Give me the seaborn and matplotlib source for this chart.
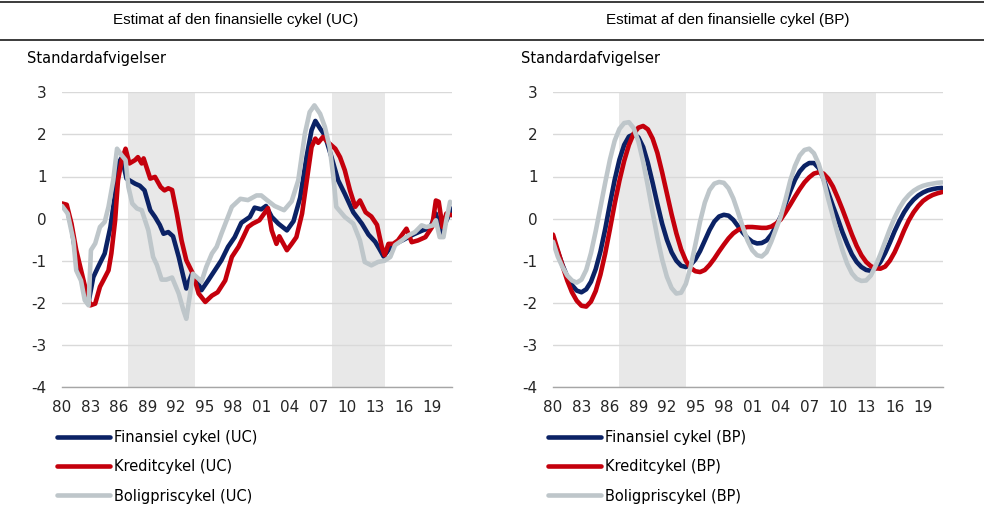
import matplotlib
matplotlib.use("Agg")
import matplotlib.pyplot as plt
from matplotlib.lines import Line2D
import pandas as pd
import seaborn as sns

NAVY = "#0b2265"
RED = "#c4000c"
GREY = "#bec6ca"
SHADE = "#e8e8e8"

TITLES = ["Estimat af den finansielle cykel (UC)", "Estimat af den finansielle cykel (BP)"]
YLABEL = "Standardafvigelser"
SHADED = [(1987.0, 1994.0), (2008.5, 2014.0)]

# ---- UC panel (readings)
uc_fin_year = [1980.0, 1980.5, 1981.0, 1981.7, 1982.2, 1982.8, 1983.3, 1983.8, 1984.5, 1985.1,
               1985.6, 1985.9, 1986.3, 1986.8, 1987.1, 1987.7, 1988.2, 1988.7, 1989.3, 1989.8,
               1990.3, 1990.7, 1991.2, 1991.7, 1992.3, 1992.8, 1993.1, 1993.7, 1994.2, 1994.7,
               1995.4, 1996.1, 1996.8, 1997.5, 1998.2, 1998.9, 1999.8, 2000.3, 2001.0, 2001.5,
               2002.1, 2002.8, 2003.7, 2004.4, 2005.1, 2005.8, 2006.3, 2006.7, 2007.2, 2007.7,
               2008.4, 2009.1, 2009.8, 2010.7, 2011.6, 2012.3, 2013.0, 2013.4, 2013.9, 2014.4,
               2015.1, 2016.0, 2017.0, 2018.0, 2018.8, 2019.4, 2020.0, 2020.5, 2021.1]
uc_fin = [0.32, 0.25, -0.2, -1.23, -1.47, -1.98, -1.39, -1.15, -0.83, -0.2,
          0.59, 1.3, 1.45, 0.95, 0.91, 0.83, 0.78, 0.67, 0.2, 0.04,
          -0.15, -0.36, -0.32, -0.42, -0.91, -1.39, -1.66, -1.31, -1.47, -1.7,
          -1.47, -1.23, -0.99, -0.67, -0.44, -0.1, 0.04, 0.26, 0.22, 0.3,
          0.04, -0.12, -0.28, -0.06, 0.5, 1.5, 2.1, 2.32, 2.14, 1.98,
          1.46, 0.91, 0.59, 0.15, -0.12, -0.38, -0.55, -0.7, -0.9, -0.75,
          -0.6, -0.5, -0.38, -0.28, -0.22, 0.12, -0.36, -0.05, 0.24]

uc_kredit_year = [1980.0, 1980.5, 1981.0, 1981.5, 1982.1, 1982.6, 1983.0, 1983.5, 1984.0, 1984.35,
                  1984.9, 1985.2, 1985.6, 1985.9, 1986.3, 1986.7, 1987.1, 1987.7, 1988.0, 1988.4,
                  1988.6, 1989.3, 1989.8, 1990.4, 1990.8, 1991.2, 1991.6, 1992.1, 1992.6, 1993.1,
                  1993.8, 1994.4, 1995.1, 1995.8, 1996.4, 1997.2, 1997.9, 1998.6, 1999.1, 1999.6,
                  2000.1, 2000.8, 2001.4, 2001.7, 2002.1, 2002.6, 2002.9, 2003.7, 2004.2, 2004.7,
                  2005.3, 2005.8, 2006.3, 2006.7, 2007.0, 2007.5, 2008.0, 2008.8, 2009.3, 2009.8,
                  2010.35, 2010.9, 2011.4, 2012.0, 2012.6, 2013.2, 2013.7, 2014.0, 2014.4, 2014.9,
                  2015.4, 2016.3, 2016.85, 2017.5, 2018.3, 2019.0, 2019.4, 2019.7, 2020.1, 2020.5,
                  2021.1]
uc_kredit = [0.36, 0.33, -0.12, -0.75, -1.31, -1.78, -2.06, -2.02, -1.62, -1.47,
             -1.23, -0.83, -0.04, 0.91, 1.39, 1.66, 1.31, 1.39, 1.46, 1.31,
             1.43, 0.95, 0.99, 0.75, 0.67, 0.72, 0.68, 0.12, -0.52, -0.99,
             -1.31, -1.78, -1.98, -1.83, -1.75, -1.47, -0.91, -0.67, -0.44, -0.2,
             -0.12, -0.04, 0.15, 0.25, -0.28, -0.6, -0.42, -0.75, -0.6, -0.44,
             0.12, 0.91, 1.7, 1.9, 1.8, 1.94, 1.82, 1.66, 1.46, 1.15,
             0.67, 0.28, 0.43, 0.15, 0.05, -0.15, -0.67, -0.87, -0.6, -0.6,
             -0.52, -0.24, -0.56, -0.52, -0.44, -0.2, 0.43, 0.4, -0.2, 0.12,
             0.08]

uc_bolig_year = [1980.0, 1980.6, 1981.2, 1981.5, 1982.0, 1982.4, 1982.8, 1983.05, 1983.5, 1984.0,
                 1984.5, 1984.9, 1985.4, 1985.8, 1986.3, 1986.7, 1987.0, 1987.4, 1987.9, 1988.4,
                 1989.1, 1989.6, 1990.0, 1990.5, 1991.0, 1991.6, 1992.3, 1992.8, 1993.1, 1993.5,
                 1993.8, 1994.4, 1994.7, 1995.2, 1995.8, 1996.3, 1996.8, 1997.35, 1997.9, 1998.8,
                 1999.6, 2000.5, 2001.0, 2001.6, 2002.4, 2003.4, 2004.2, 2004.9, 2005.6, 2006.1,
                 2006.6, 2007.2, 2007.7, 2008.2, 2008.6, 2008.9, 2009.8, 2010.7, 2011.4, 2011.9,
                 2012.6, 2013.3, 2014.0, 2014.6, 2015.1, 2015.8, 2016.5, 2017.2, 2017.9, 2018.4,
                 2019.1, 2019.4, 2019.8, 2020.2, 2020.5, 2020.9]
uc_bolig = [0.3, 0.12, -0.52, -1.23, -1.47, -1.94, -2.06, -0.75, -0.59, -0.2,
            -0.08, 0.28, 0.91, 1.66, 1.5, 1.39, 0.75, 0.36, 0.24, 0.2,
            -0.28, -0.91, -1.1, -1.45, -1.45, -1.4, -1.78, -2.18, -2.38, -1.78,
            -1.31, -1.43, -1.5, -1.15, -0.83, -0.67, -0.36, -0.04, 0.28, 0.47,
            0.44, 0.55, 0.55, 0.44, 0.3, 0.2, 0.41, 0.91, 2.02, 2.53,
            2.69, 2.49, 2.18, 1.7, 0.99, 0.28, 0.04, -0.12, -0.52, -1.03,
            -1.11, -1.03, -1.0, -0.91, -0.63, -0.52, -0.4, -0.32, -0.16, -0.2,
            -0.16, -0.04, -0.44, -0.44, -0.04, 0.4]

# ---- BP panel, half-year readings 1980.0 .. 2021.0
bp_year = [1980 + 0.5 * i for i in range(83)]
bp_fin = [-0.5, -0.78, -1.1, -1.38, -1.58, -1.71, -1.75, -1.68, -1.5, -1.2,
          -0.78, -0.25, 0.35, 0.92, 1.4, 1.75, 1.95, 2.0, 1.93, 1.7,
          1.32, 0.85, 0.35, -0.12, -0.5, -0.8, -1.0, -1.12, -1.15, -1.1,
          -0.97, -0.77, -0.52, -0.27, -0.07, 0.05, 0.09, 0.07, -0.03, -0.18,
          -0.33, -0.46, -0.55, -0.59, -0.58, -0.52, -0.38, -0.18, 0.05, 0.35,
          0.65, 0.92, 1.12, 1.25, 1.32, 1.32, 1.2, 0.95, 0.62, 0.3,
          0.0, -0.32, -0.6, -0.85, -1.03, -1.15, -1.22, -1.24, -1.18, -1.03,
          -0.82, -0.57, -0.3, -0.06, 0.15, 0.32, 0.45, 0.55, 0.62, 0.67,
          0.7, 0.72, 0.73]
bp_kredit = [-0.38, -0.75, -1.12, -1.47, -1.75, -1.95, -2.07, -2.09, -1.97, -1.72,
             -1.33, -0.83, -0.25, 0.35, 0.9, 1.37, 1.75, 2.02, 2.16, 2.2,
             2.12, 1.9, 1.56, 1.1, 0.6, 0.1, -0.35, -0.73, -1.0, -1.17,
             -1.25, -1.27, -1.22, -1.1, -0.95, -0.78, -0.62, -0.47, -0.35, -0.27,
             -0.22, -0.2, -0.2, -0.21, -0.22, -0.22, -0.19, -0.12, -0.02, 0.15,
             0.33, 0.52, 0.7, 0.86, 0.98, 1.07, 1.1, 1.07, 0.95, 0.76,
             0.5, 0.22, -0.08, -0.38, -0.65, -0.87, -1.03, -1.13, -1.18, -1.19,
             -1.14, -1.0, -0.8, -0.55, -0.28, -0.04, 0.15, 0.3, 0.42, 0.5,
             0.56, 0.6, 0.63]
bp_bolig = [-0.55, -0.9, -1.15, -1.35, -1.47, -1.52, -1.45, -1.22, -0.82, -0.3,
            0.27, 0.85, 1.4, 1.85, 2.13, 2.27, 2.29, 2.15, 1.83, 1.35,
            0.77, 0.15, -0.45, -0.97, -1.38, -1.65, -1.78, -1.76, -1.55, -1.15,
            -0.62, -0.07, 0.38, 0.68, 0.83, 0.87, 0.85, 0.72, 0.48, 0.15,
            -0.2, -0.52, -0.75, -0.87, -0.9, -0.8, -0.55, -0.25, 0.05, 0.45,
            0.9, 1.25, 1.5, 1.63, 1.66, 1.55, 1.3, 0.92, 0.47, 0.05,
            -0.37, -0.75, -1.07, -1.3, -1.43, -1.48, -1.47, -1.35, -1.12, -0.85,
            -0.55, -0.25, 0.02, 0.25, 0.43, 0.56, 0.66, 0.73, 0.78, 0.81,
            0.83, 0.85, 0.86]

PANELS = [
    ("UC", [(uc_fin_year, uc_fin, "Finansiel cykel (UC)", NAVY),
            (uc_kredit_year, uc_kredit, "Kreditcykel (UC)", RED),
            (uc_bolig_year, uc_bolig, "Boligpriscykel (UC)", GREY)]),
    ("BP", [(bp_year, bp_fin, "Finansiel cykel (BP)", NAVY),
            (bp_year, bp_kredit, "Kreditcykel (BP)", RED),
            (bp_year, bp_bolig, "Boligpriscykel (BP)", GREY)]),
]

sns.set_style("white")
plt.rcParams.update({
    "font.family": ["DejaVu Sans"],
    "lines.solid_capstyle": "round",
    "lines.solid_joinstyle": "round",
    "axes.unicode_minus": False,
    "text.color": "#000000",
})

W, H = 984, 529
fig = plt.figure(figsize=(W / 100, H / 100), dpi=100)

ax_left = [62, 553]
legend_left = [57, 548]
ylabel_left = [27, 521]
title_center = [236, 728]

for i, (tag, series) in enumerate(PANELS):
    ax = fig.add_axes([ax_left[i] / W, 142 / H, 390 / W, 294.7 / H])
    for lo, hi in SHADED:
        ax.axvspan(lo, hi, color=SHADE, lw=0, zorder=0)
    for xs, ys, name, col in series:
        df = pd.DataFrame({"year": xs, "value": ys})
        sns.lineplot(data=df, x="year", y="value", ax=ax, color=col, lw=3.3,
                     label=name, sort=False, estimator=None)

    ax.set_xlim(1980, 2021.1)
    ax.set_ylim(-4, 3)
    ax.set_yticks(range(-4, 4))
    ax.set_xticks(range(1980, 2020, 3))
    ax.set_xticklabels([f"{y % 100:02d}" for y in range(1980, 2020, 3)])
    ax.set_xticks(range(1980, 2022), minor=True)
    ax.set_xlabel("")
    ax.set_ylabel("")
    ax.grid(axis="y", color="#d9d9d9", lw=1)
    ax.grid(axis="x", visible=False)
    ax.set_axisbelow(True)
    for s in ["top", "right", "left"]:
        ax.spines[s].set_visible(False)
    ax.spines["bottom"].set_color("#a6a6a6")
    ax.spines["bottom"].set_linewidth(1)
    ax.tick_params(axis="x", which="both", direction="out", length=3, width=0.8,
                   color="#8c8c8c", labelsize=11, pad=6)
    ax.tick_params(axis="y", length=0, labelsize=11, pad=11)

    ax.legend(loc="upper left", bbox_to_anchor=(legend_left[i] / W, 1 - 430 / H),
              bbox_transform=fig.transFigure, frameon=False, borderpad=0,
              borderaxespad=0, handlelength=3.6, handletextpad=0.3,
              labelspacing=0.98, fontsize=10.5)

    fig.text(ylabel_left[i] / W, 1 - 58 / H, YLABEL, ha="left", va="center", fontsize=10.5)
    fig.text(title_center[i] / W, 1 - 20 / H, TITLES[i], ha="center", va="center",
             fontsize=11, family=["Liberation Sans Narrow", "Liberation Sans", "DejaVu Sans"])

for yy in [2, 40]:
    fig.add_artist(Line2D([0, 1], [1 - yy / H, 1 - yy / H], transform=fig.transFigure,
                          color="#1a1a1a", lw=1.2))

fig.savefig("out.png", dpi=100)
